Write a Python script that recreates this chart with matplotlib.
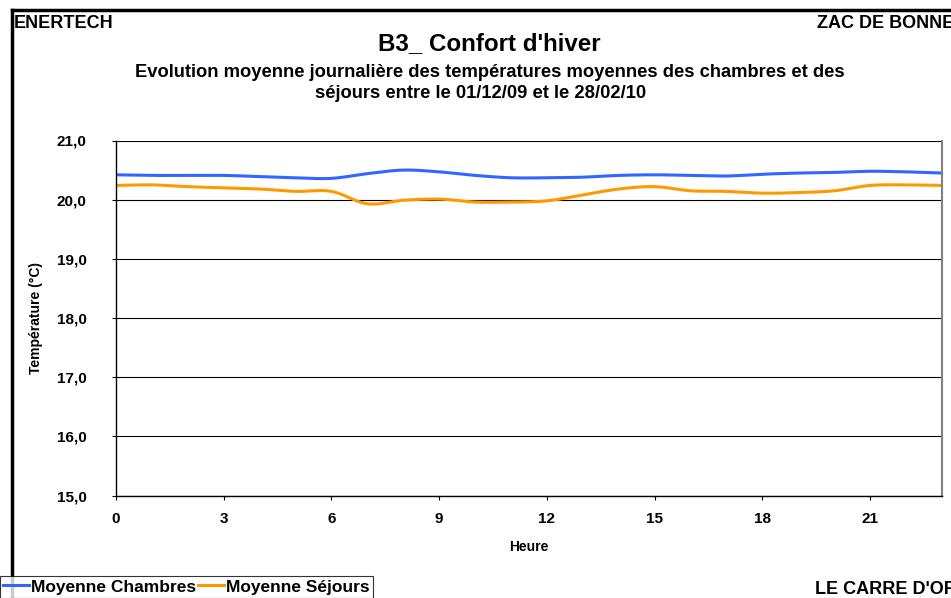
import matplotlib
matplotlib.use("Agg")
import matplotlib.pyplot as plt
import numpy as np

plt.rcParams['font.family'] = ['Liberation Sans', 'DejaVu Sans']
plt.rcParams['font.weight'] = 'bold'
plt.rcParams['axes.labelweight'] = 'bold'

heures = list(range(24))
chambres = [20.42, 20.41, 20.41, 20.41, 20.39, 20.37, 20.36, 20.44, 20.50, 20.47,
            20.41, 20.37, 20.37, 20.38, 20.41, 20.42, 20.41, 20.40, 20.43, 20.45,
            20.46, 20.48, 20.47, 20.45]
sejours = [20.24, 20.25, 20.22, 20.20, 20.18, 20.14, 20.14, 19.93, 19.99, 20.01,
           19.96, 19.96, 19.98, 20.08, 20.18, 20.22, 20.15, 20.14, 20.11, 20.12,
           20.15, 20.24, 20.25, 20.24]
y_ticks = [15, 16, 17, 18, 19, 20, 21]
x_ticks = [0, 3, 6, 9, 12, 15, 18, 21]


def lisser(x, y, n=20):
    # courbe lissée type Excel (Catmull-Rom)
    x = np.asarray(x, float)
    y = np.asarray(y, float)
    xp = np.concatenate([[2 * x[0] - x[1]], x, [2 * x[-1] - x[-2]]])
    yp = np.concatenate([[2 * y[0] - y[1]], y, [2 * y[-1] - y[-2]]])
    xs, ys = [], []
    t = np.linspace(0, 1, n, endpoint=False)
    for i in range(1, len(xp) - 2):
        for arr, out in ((xp, xs), (yp, ys)):
            p0, p1, p2, p3 = arr[i - 1:i + 3]
            out.extend(0.5 * ((2 * p1) + (-p0 + p2) * t
                              + (2 * p0 - 5 * p1 + 4 * p2 - p3) * t ** 2
                              + (-p0 + 3 * p1 - 3 * p2 + p3) * t ** 3))
    xs.append(x[-1])
    ys.append(y[-1])
    return xs, ys


W, H = 951, 598
fig = plt.figure(figsize=(W / 100, H / 100), dpi=100)
ax = fig.add_axes([116 / W, 1 - 495.5 / H, 826 / W, 355 / H])

bleu = '#3366FF'
orange = '#FF9900'
l1, = ax.plot(*lisser(heures, chambres), color=bleu, lw=2.2, label='Moyenne Chambres')
l2, = ax.plot(*lisser(heures, sejours), color=orange, lw=2.2, label='Moyenne Séjours')

ax.set_xlim(0, 23)
ax.set_ylim(15, 21)
ax.set_yticks(y_ticks)
ax.set_yticklabels([f'{v:.1f}'.replace('.', ',') for v in y_ticks])
ax.set_xticks(x_ticks)
ax.grid(axis='y', color='black', lw=0.8)
ax.set_axisbelow(True)
ax.tick_params(axis='both', labelsize=11, length=3, width=0.8, direction='out')
ax.tick_params(axis='y', pad=18)
ax.tick_params(axis='x', pad=9)
ax.spines['top'].set_visible(False)
ax.spines['right'].set_color('#808080')
ax.spines['right'].set_linewidth(1.5)
ax.spines['left'].set_linewidth(1.0)
ax.spines['bottom'].set_linewidth(1.0)
ax.set_ylabel('Température (°C)', fontsize=10, labelpad=10)
ax.set_xlabel('Heure', fontsize=10, labelpad=10)

# cadre de la page
fig.add_artist(plt.Line2D([12 / W, 12 / W], [0, 1 - 10 / H], color='black', lw=2.5))
fig.add_artist(plt.Line2D([12 / W, 1], [1 - 10 / H, 1 - 10 / H], color='black', lw=2.5))

fig.text(14 / W, 1 - 28 / H, 'ENERTECH', fontsize=13, va='baseline', ha='left')
fig.text(817 / W, 1 - 28 / H, 'ZAC DE BONNE', fontsize=13, va='baseline', ha='left')
fig.text(489 / W, 1 - 50 / H, "B3_ Confort d'hiver", fontsize=17.4, va='baseline', ha='center')
fig.text(490 / W, 1 - 77 / H, 'Evolution moyenne journalière des températures moyennes des chambres et des',
         fontsize=13.2, va='baseline', ha='center')
fig.text(481 / W, 1 - 98 / H, 'séjours entre le 01/12/09 et le 28/02/10',
         fontsize=13.2, va='baseline', ha='center')
fig.text(815 / W, 1 - 594 / H, "LE CARRE D'OR", fontsize=13, va='baseline', ha='left')

leg = fig.legend(handles=[l1, l2], loc='lower left', bbox_to_anchor=(0, 0), ncol=2,
                 frameon=True, fancybox=False, edgecolor='black', fontsize=12.5,
                 handlelength=1.45, handletextpad=0.12, columnspacing=0.15,
                 borderpad=0.2, borderaxespad=0.0)
leg.get_frame().set_linewidth(0.8)

fig.savefig('out.png', dpi=100)
